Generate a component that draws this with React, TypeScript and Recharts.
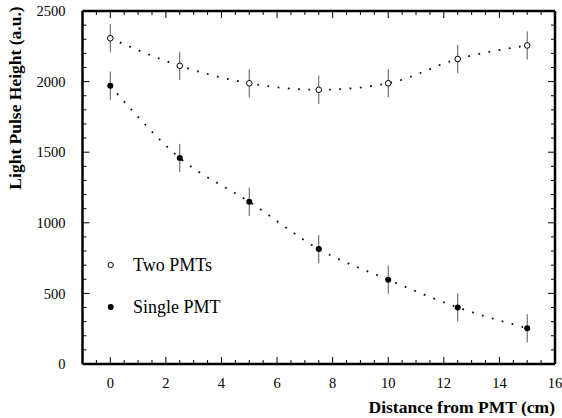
import {
  ComposedChart,
  ErrorBar,
  Label,
  Legend,
  Line,
  Scatter,
  XAxis,
  YAxis,
} from "recharts";

const distances = [0, 2.5, 5, 7.5, 10, 12.5, 15];
const twoPmtValues = [2307, 2112, 1988, 1942, 1988, 2160, 2256];
const singlePmtValues = [1971, 1459, 1149, 814, 597, 401, 253];
const twoPmtErrors = [100, 100, 100, 100, 100, 100, 100];
const singlePmtErrors = [100, 100, 100, 100, 100, 100, 100];

const xMajor = [0, 2, 4, 6, 8, 10, 12, 14, 16];
const xMinor = [
  -0.5, 0.5, 1, 1.5, 2.5, 3, 3.5, 4.5, 5, 5.5, 6.5, 7, 7.5, 8.5, 9, 9.5, 10.5,
  11, 11.5, 12.5, 13, 13.5, 14.5, 15, 15.5,
];
const yMajor = [0, 500, 1000, 1500, 2000, 2500];
const yMinor = [
  100, 200, 300, 400, 600, 700, 800, 900, 1100, 1200, 1300, 1400, 1600, 1700,
  1800, 1900, 2100, 2200, 2300, 2400,
];

const seriesNames = ["Two PMTs", "Single PMT"];

const twoData = distances.map((x, i) => ({
  x,
  y: twoPmtValues[i],
  err: twoPmtErrors[i],
}));
const singleData = distances.map((x, i) => ({
  x,
  y: singlePmtValues[i],
  err: singlePmtErrors[i],
}));

const W = 562;
const H = 418;
const M = { top: 11, right: 7, bottom: 0, left: 0 };
const FONT = "'Liberation Serif', 'Times New Roman', serif";
const X_DOMAIN: [number, number] = [-1, 16];
const Y_DOMAIN: [number, number] = [0, 2500];
const frame = { stroke: "#000", strokeWidth: 2.5 };
const tickText = { fontSize: 14.5, fontFamily: FONT, fill: "#000" };

function OpenDot({ cx, cy }: any) {
  return <circle cx={cx} cy={cy} r={2.8} fill="#fff" stroke="#000" strokeWidth={1} />;
}

function FilledDot({ cx, cy }: any) {
  return <circle cx={cx} cy={cy} r={3} fill="#000" />;
}

function LegendBox() {
  return (
    <svg width={160} height={70} style={{ display: "block" }}>
      <circle cx={10.7} cy={11} r={2.6} fill="#fff" stroke="#000" />
      <text x={33} y={17} fontSize={18} fontFamily={FONT} fill="#000">
        {seriesNames[0]}
      </text>
      <circle cx={10.7} cy={53} r={3} fill="#000" />
      <text x={33} y={59} fontSize={18} fontFamily={FONT} fill="#000">
        {seriesNames[1]}
      </text>
    </svg>
  );
}

// bottom axis label + inward ticks on top and bottom edges
function XAxisDecor(props: any) {
  const vb = props.viewBox || { x: 82.5, y: 364, width: 472.5, height: 54 };
  const top = M.top;
  const bottom = vb.y;
  const px = (v: number) =>
    vb.x + ((v - X_DOMAIN[0]) / (X_DOMAIN[1] - X_DOMAIN[0])) * vb.width;
  const marks = [
    ...xMajor.slice(0, -1).map((v) => ({ v, len: 7 })),
    ...xMinor.map((v) => ({ v, len: 4 })),
  ];
  return (
    <g>
      {marks.map((m) => (
        <g key={m.v}>
          <line x1={px(m.v)} x2={px(m.v)} y1={bottom} y2={bottom - m.len} stroke="#000" strokeWidth={1} />
          <line x1={px(m.v)} x2={px(m.v)} y1={top} y2={top + m.len} stroke="#000" strokeWidth={1} />
        </g>
      ))}
      <text
        x={W - M.right}
        y={H - 5}
        textAnchor="end"
        fontSize={17.5}
        fontWeight="bold"
        fontFamily={FONT}
        fill="#000"
      >
        Distance from PMT (cm)
      </text>
    </g>
  );
}

// left axis label + inward ticks on left and right edges
function YAxisDecor(props: any) {
  const vb = props.viewBox || { x: 0, y: 11, width: 82.5, height: 353 };
  const left = vb.x + vb.width;
  const right = W - M.right;
  const py = (v: number) =>
    vb.y + vb.height - ((v - Y_DOMAIN[0]) / (Y_DOMAIN[1] - Y_DOMAIN[0])) * vb.height;
  const marks = [
    ...yMajor.map((v) => ({ v, len: 7 })),
    ...yMinor.map((v) => ({ v, len: 4 })),
  ];
  return (
    <g>
      {marks.map((m) => (
        <g key={m.v}>
          <line x1={left} x2={left + m.len} y1={py(m.v)} y2={py(m.v)} stroke="#000" strokeWidth={1} />
          <line x1={right} x2={right - m.len} y1={py(m.v)} y2={py(m.v)} stroke="#000" strokeWidth={1} />
        </g>
      ))}
      <text
        x={0}
        y={0}
        transform="translate(21 98) rotate(-90)"
        textAnchor="middle"
        fontSize={17.5}
        fontWeight="bold"
        fontFamily={FONT}
        fill="#000"
      >
        Light Pulse Height (a.u.)
      </text>
    </g>
  );
}

export default function App() {
  return (
    <div style={{ position: "absolute", left: 0, top: 0, background: "#fff" }}>
      <ComposedChart width={W} height={H} margin={M}>
        <XAxis
          xAxisId={0}
          dataKey="x"
          type="number"
          domain={X_DOMAIN}
          ticks={xMajor}
          interval={0}
          allowDataOverflow
          height={54}
          tickSize={0}
          tickMargin={13.7}
          tickLine={false}
          tick={tickText}
          axisLine={frame}
        >
          <Label content={(p: any) => <XAxisDecor {...p} />} />
        </XAxis>
        <YAxis
          yAxisId={0}
          type="number"
          domain={Y_DOMAIN}
          ticks={yMajor}
          interval={0}
          allowDataOverflow
          width={82.5}
          tickSize={0}
          tickMargin={17}
          tickLine={false}
          tick={tickText}
          axisLine={frame}
        >
          <Label content={(p: any) => <YAxisDecor {...p} />} />
        </YAxis>
        <XAxis
          xAxisId="top"
          orientation="top"
          mirror
          type="number"
          domain={X_DOMAIN}
          allowDataOverflow
          height={1}
          tick={false}
          tickLine={false}
          axisLine={frame}
        />
        <YAxis
          yAxisId="right"
          orientation="right"
          mirror
          type="number"
          domain={Y_DOMAIN}
          allowDataOverflow
          width={1}
          tick={false}
          tickLine={false}
          axisLine={frame}
        />
        <Line
          data={twoData}
          dataKey="y"
          type="monotone"
          stroke="#111"
          strokeWidth={1.8}
          strokeDasharray="1.8 8.5"
          dot={false}
          activeDot={false}
          legendType="none"
          isAnimationActive={false}
        />
        <Line
          data={singleData}
          dataKey="y"
          type="monotone"
          stroke="#111"
          strokeWidth={1.8}
          strokeDasharray="1.8 8.5"
          dot={false}
          activeDot={false}
          legendType="none"
          isAnimationActive={false}
        />
        <Scatter
          name={seriesNames[0]}
          data={twoData}
          dataKey="y"
          shape={<OpenDot />}
          isAnimationActive={false}
        >
          <ErrorBar dataKey="err" direction="y" width={0} stroke="#555" strokeWidth={1} />
        </Scatter>
        <Scatter
          name={seriesNames[1]}
          data={singleData}
          dataKey="y"
          shape={<FilledDot />}
          isAnimationActive={false}
        >
          <ErrorBar dataKey="err" direction="y" width={0} stroke="#555" strokeWidth={1} />
        </Scatter>
        <Legend
          layout="horizontal"
          verticalAlign="middle"
          align="center"
          content={() => <LegendBox />}
          wrapperStyle={{ left: 100, top: 254, width: 160, height: 70 }}
        />
      </ComposedChart>
    </div>
  );
}
